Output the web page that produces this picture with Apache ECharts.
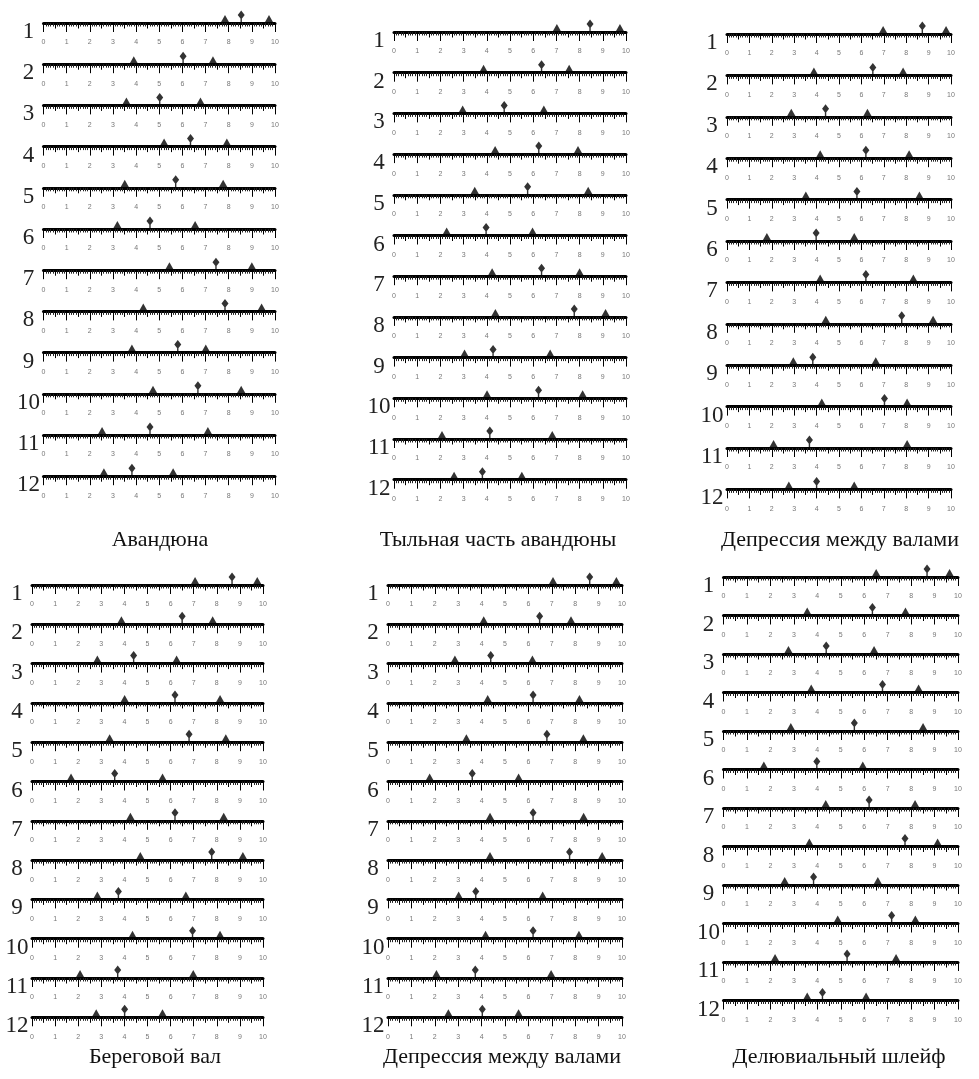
<!DOCTYPE html>
<html><head><meta charset="utf-8">
<script src="https://cdn.jsdelivr.net/npm/echarts@6/dist/echarts.min.js"></script>
<style>html,body{margin:0;padding:0;background:#fff}#c{width:979px;height:1079px}</style>
</head><body><div id="c"></div>
<script>
// ---------- DATA ----------
const rowLabels = ['1','2','3','4','5','6','7','8','9','10','11','12'];
const tickLabels = ['0','1','2','3','4','5','6','7','8','9','10'];
const panelTitles = ['Авандюна','Тыльная часть авандюны','Депрессия между валами','Береговой вал','Депрессия между валами','Делювиальный шлейф'];

const avandunaLow  = [7.84,3.90,3.58,5.21,3.51,3.19,5.44,4.31,3.82,4.73,2.53,2.61];
const avandunaMean = [8.54,6.03,5.02,6.35,5.71,4.60,7.45,7.84,5.80,6.67,4.60,3.82];
const avandunaHigh = [9.74,7.32,6.78,7.92,7.76,6.55,9.00,9.42,7.01,8.54,7.10,5.60];

const rearLow  = [7.02,3.86,2.96,4.36,3.48,2.27,4.23,4.37,3.04,4.01,2.07,2.59];
const rearMean = [8.45,6.36,4.75,6.24,5.76,3.97,6.36,7.77,4.27,6.23,4.13,3.81];
const rearHigh = [9.74,7.55,6.46,7.93,8.37,5.97,8.00,9.12,6.73,8.13,6.82,5.51];

const depr1Low  = [6.97,3.88,2.87,4.16,3.52,1.78,4.16,4.41,2.96,4.23,2.08,2.76];
const depr1Mean = [8.72,6.51,4.40,6.20,5.80,3.98,6.20,7.80,3.83,7.03,3.68,4.00];
const depr1High = [9.78,7.86,6.27,8.13,8.59,5.68,8.32,9.20,6.64,8.04,8.04,5.68];

const ridgeLow  = [7.06,3.87,2.83,4.01,3.36,1.69,4.26,4.69,2.83,4.35,2.08,2.78];
const ridgeMean = [8.66,6.50,4.40,6.19,6.80,3.58,6.19,7.78,3.74,6.95,3.71,4.01];
const ridgeHigh = [9.75,7.82,6.26,8.14,8.39,5.65,8.30,9.13,6.66,8.14,6.98,5.65];

const depr2Low  = [7.05,4.09,2.86,4.26,3.35,1.78,4.36,4.36,3.02,4.17,2.07,2.58];
const depr2Mean = [8.62,6.48,4.39,6.20,6.79,3.60,6.20,7.76,3.75,6.20,3.73,4.03];
const depr2High = [9.76,7.82,6.17,8.18,8.35,5.58,8.36,9.15,6.61,8.16,6.97,5.58];

const deluvLow  = [6.51,3.57,2.77,3.74,2.87,1.72,4.36,3.66,2.61,4.87,2.20,3.57];
const deluvMean = [8.68,6.35,4.38,6.78,5.58,3.98,6.21,7.74,3.84,7.17,5.27,4.22];
const deluvHigh = [9.64,7.76,6.42,8.32,8.51,5.94,8.17,9.13,6.58,8.18,7.36,6.08];

// ---------- LAYOUT ----------
const panelData = [
  [avandunaLow, avandunaMean, avandunaHigh],
  [rearLow, rearMean, rearHigh],
  [depr1Low, depr1Mean, depr1High],
  [ridgeLow, ridgeMean, ridgeHigh],
  [depr2Low, depr2Mean, depr2High],
  [deluvLow, deluvMean, deluvHigh]
];
const layout = [
  {x0:43.5, x10:275, y1:23,  dy:41.2, tx:155, ty:540},
  {x0:394,  x10:626, y1:32,  dy:40.7, tx:493, ty:540},
  {x0:727,  x10:951, y1:34,  dy:41.4, tx:835, ty:540},
  {x0:32,   x10:263, y1:585, dy:39.3, tx:150, ty:1057},
  {x0:388,  x10:622, y1:585, dy:39.3, tx:497, ty:1057},
  {x0:723.5,x10:958, y1:577, dy:38.5, tx:834, ty:1057}
];

const serif = "'Liberation Serif','Times New Roman',serif";
const diamondPath = 'path://M0,0 L3.5,4.5 L0,9 L-3.5,4.5 Z M-0.7,8 L0.7,8 L0.7,12 L-0.7,12 Z';

const grid=[], xAxis=[], yAxis=[], series=[], title=[];
let g = 0;
layout.forEach((L, p) => {
  title.push({
    text: panelTitles[p], left: L.tx, top: L.ty - 16, textAlign: 'center',
    textStyle: {fontFamily: serif, fontSize: 22, fontWeight: 'normal', color: '#111'}
  });
  const [lo, mn, hi] = panelData[p];
  for (let r = 0; r < rowLabels.length; r++) {
    const yLine = L.y1 + r * L.dy;
    grid.push({left: L.x0, width: L.x10 - L.x0, top: yLine, height: 18});
    // main axis: integer ticks + tenth minor ticks + labels
    xAxis.push({
      gridIndex: g, type: 'value', min: 0, max: 10, interval: 1, position: 'bottom', offset: -18,
      axisLine: {show: true, onZero: false, lineStyle: {color: '#000', width: 3}},
      axisTick: {show: true, length: 9, lineStyle: {color: '#000', width: 1}},
      minorTick: {show: true, splitNumber: 10, length: 3.5, lineStyle: {color: '#222', width: 1}},
      axisLabel: {show: true, margin: 16, fontSize: 7, color: '#777', fontFamily: "'Liberation Sans', Arial, sans-serif",
        formatter: v => tickLabels[Math.round(v)]},
      splitLine: {show: false}, minorSplitLine: {show: false}
    });
    // half-unit ticks
    xAxis.push({
      gridIndex: g, type: 'value', min: 0, max: 10, interval: 0.5, position: 'bottom', offset: -18,
      axisLine: {show: false, onZero: false},
      axisTick: {show: true, length: 5.5, lineStyle: {color: '#000', width: 1}},
      axisLabel: {show: false}, splitLine: {show: false}
    });
    yAxis.push({
      gridIndex: g, type: 'category', data: [rowLabels[r]], position: 'left',
      axisLine: {show: false}, axisTick: {show: false},
      axisLabel: {show: true, margin: 15, align: 'center', fontFamily: serif, fontSize: 23, color: '#222'}
    });
    yAxis.push({gridIndex: g, type: 'value', min: 0, max: 1, show: false});
    const xi = g * 2, yi = g * 2 + 1;
    series.push({
      type: 'scatter', xAxisIndex: xi, yAxisIndex: yi, symbol: 'triangle',
      symbolSize: [9, 8], symbolOffset: [0, -4], silent: true,
      itemStyle: {color: '#000'},
      data: [[lo[r], 1], [hi[r], 1]]
    });
    series.push({
      type: 'scatter', xAxisIndex: xi, yAxisIndex: yi, symbol: diamondPath,
      symbolSize: [7, 12], symbolOffset: [0, -6.5], silent: true,
      itemStyle: {color: '#000'},
      data: [[mn[r], 1]]
    });
    g++;
  }
});

const chart = echarts.init(document.getElementById('c'));
chart.setOption({animation: false, backgroundColor: '#fff', title, grid, xAxis, yAxis, series});
</script></body></html>
